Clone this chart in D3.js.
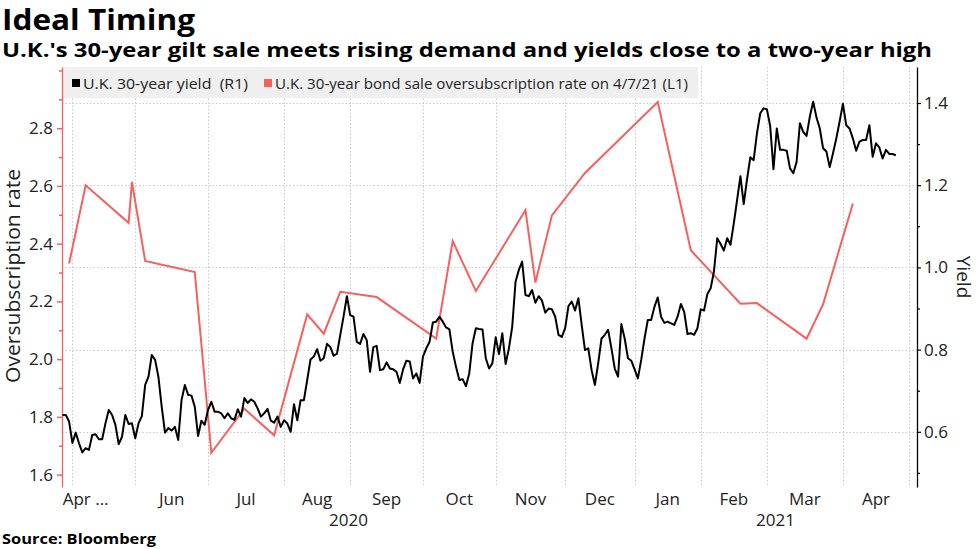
<!DOCTYPE html>
<html>
<head>
<meta charset="utf-8">
<script src="https://cdn.jsdelivr.net/npm/d3@7"></script>
<style>
  html, body { margin: 0; padding: 0; background: #fff; }
  svg { display: block; }
  text { font-family: "Open Sans", "Noto Sans", "Liberation Sans", sans-serif; }
</style>
</head>
<body>
<svg id="chart" width="977" height="549"></svg>
<script>
// ---------- DATA ----------
// U.K. 30-year gilt yield, one value per trading day (index 0 = late Apr 2020)
const yieldValues = [
  0.641, 0.641, 0.625, 0.573, 0.598, 0.572, 0.550, 0.560, 0.556, 0.592,
  0.594, 0.582, 0.582, 0.621, 0.653, 0.641, 0.617, 0.570, 0.588, 0.641,
  0.619, 0.621, 0.584, 0.621, 0.638, 0.714, 0.734, 0.787, 0.775, 0.734,
  0.661, 0.598, 0.609, 0.603, 0.612, 0.580, 0.677, 0.714, 0.690, 0.688,
  0.661, 0.590, 0.627, 0.617, 0.653, 0.673, 0.649, 0.649, 0.645, 0.633,
  0.645, 0.633, 0.629, 0.655, 0.637, 0.682, 0.670, 0.679, 0.673, 0.657,
  0.637, 0.645, 0.656, 0.627, 0.622, 0.637,
  0.612, 0.628, 0.620, 0.600, 0.667, 0.628, 0.677, 0.677, 0.726, 0.776,
  0.783, 0.801, 0.773, 0.779, 0.814, 0.806, 0.785, 0.790, 0.836, 0.881,
  0.930, 0.884, 0.880,
  0.819, 0.814, 0.838, 0.823, 0.746, 0.806, 0.809, 0.750, 0.752, 0.769,
  0.754, 0.752, 0.746, 0.719, 0.752, 0.773, 0.771, 0.730, 0.742, 0.719,
  0.783, 0.803, 0.819, 0.866, 0.868, 0.880, 0.868, 0.854, 0.849, 0.795,
  0.758, 0.726, 0.728, 0.711, 0.742, 0.815, 0.852, 0.850, 0.849, 0.779,
  0.754,
  0.767, 0.830, 0.789, 0.840, 0.765, 0.803, 0.856, 0.965, 0.994, 1.014,
  0.933, 0.930, 0.945, 0.914, 0.930, 0.919, 0.890, 0.900, 0.898, 0.880,
  0.836, 0.831, 0.852, 0.906, 0.917, 0.895, 0.925, 0.860, 0.799, 0.803,
  0.750, 0.714, 0.767, 0.827, 0.836, 0.848, 0.803, 0.754, 0.734, 0.862,
  0.827, 0.779, 0.773, 0.752, 0.730, 0.775, 0.827, 0.872, 0.872, 0.904,
  0.927, 0.880, 0.865, 0.868, 0.864, 0.860, 0.880, 0.911, 0.892, 0.838,
  0.840, 0.836, 0.852,
  0.898, 0.895, 0.935, 0.949, 0.990, 1.071, 1.057, 1.041, 1.071, 1.055,
  1.107, 1.164, 1.222, 1.154, 1.214, 1.268, 1.261, 1.326, 1.375, 1.387,
  1.385, 1.344, 1.239, 1.338, 1.286, 1.286, 1.284, 1.241, 1.229, 1.257,
  1.351, 1.330, 1.320, 1.367, 1.403, 1.365, 1.338, 1.290, 1.282, 1.244,
  1.278, 1.314, 1.355, 1.398, 1.346, 1.338, 1.314, 1.284, 1.306, 1.310,
  1.310, 1.346, 1.269, 1.302, 1.292, 1.265, 1.286, 1.276, 1.276, 1.273
];

// 30-year bond sale oversubscription rate at each auction (trading-day index)
const auctionDays = [2, 7, 20, 21, 25, 40, 45, 55, 64, 74, 79, 84, 95, 113, 118, 125,
                     140, 143, 148, 158, 180, 190, 205, 210, 225, 230, 239];
const oversubscription = [2.331, 2.602, 2.472, 2.614, 2.340, 2.302, 1.675, 1.828, 1.736,
                          2.155, 2.088, 2.233, 2.215, 2.071, 2.409, 2.236, 2.516, 2.265,
                          2.498, 2.645, 2.891, 2.377, 2.192, 2.194, 2.071, 2.190, 2.539];

// x axis (trading-day index)
const monthStarts = [3, 22, 44, 67, 87, 109, 131, 152, 173, 193, 213, 236, 256];
const monthLabels = ["Apr ...", "Jun", "Jul", "Aug", "Sep", "Oct", "Nov", "Dec", "Jan", "Feb", "Mar", "Apr"];
const monthLabelDays = [7, 33, 55.5, 77, 98, 120, 141.5, 162.5, 183, 203, 224.5, 246];
const yearLabels = ["2020", "2021"];
const yearLabelDays = [86.5, 215.6];

// y axes
const leftTicks = [1.6, 1.8, 2.0, 2.2, 2.4, 2.6, 2.8];
const leftMinorTicks = [1.7, 1.9, 2.1, 2.3, 2.5, 2.7, 2.9, 3.0];
const rightTicks = [0.6, 0.8, 1.0, 1.2, 1.4];
const rightMinorTicks = [0.5, 0.7, 0.9, 1.1, 1.3];

const legendLabels = ["U.K. 30-year yield  (R1)", "U.K. 30-year bond sale oversubscription rate on 4/7/21 (L1)"];

// ---------- CHART ----------
const RED = "#f4615f";
const svg = d3.select("#chart");
const plot = { left: 62, right: 917, top: 67, bottom: 487 };

const x = d3.scaleLinear().domain([-0.15, 258.4]).range([plot.left, plot.right]);
const yL = d3.scaleLinear().domain([1.557, 3.012]).range([plot.bottom, plot.top]);
const yR = d3.scaleLinear().domain([0.4657, 1.4876]).range([plot.bottom, plot.top]);

function fit(sel, len) {
  sel.attr("textLength", len).attr("lengthAdjust", "spacingAndGlyphs");
}

// Titles
svg.append("text").attr("x", 2).attr("y", 30)
  .attr("font-family", "Liberation Sans, Arial, sans-serif")
  .attr("font-weight", "bold").attr("font-size", 29).attr("fill", "#000")
  .text("Ideal Timing").call(fit, 193);
svg.append("text").attr("x", 2).attr("y", 57)
  .attr("font-family", "Liberation Sans, Arial, sans-serif")
  .attr("font-weight", "bold").attr("font-size", 20).attr("fill", "#000")
  .text("U.K.'s 30-year gilt sale meets rising demand and yields close to a two-year high")
  .call(fit, 930);

// Grid
const grid = svg.append("g").attr("stroke", "#c9c9c9").attr("stroke-width", 1)
  .attr("stroke-dasharray", "1.5,2");
grid.selectAll("line.h").data(rightTicks).join("line").attr("class", "h")
  .attr("x1", plot.left).attr("x2", plot.right)
  .attr("y1", d => Math.round(yR(d)) + 0.5).attr("y2", d => Math.round(yR(d)) + 0.5);
grid.selectAll("line.v").data(monthStarts).join("line").attr("class", "v")
  .attr("x1", d => Math.round(x(d)) + 0.5).attr("x2", d => Math.round(x(d)) + 0.5)
  .attr("y1", plot.top).attr("y2", plot.bottom);

// Legend
const lg = svg.append("g");
lg.append("rect").attr("x", plot.left + 1).attr("y", 67).attr("width", 635).attr("height", 31)
  .attr("fill", "#efefef");
lg.append("rect").attr("x", 72).attr("y", 79).attr("width", 8).attr("height", 8).attr("fill", "#000");
lg.append("text").attr("x", 83).attr("y", 88.5).attr("font-size", 14).attr("fill", "#222")
  .style("white-space", "pre").text(legendLabels[0]).call(fit, 165);
lg.append("rect").attr("x", 264).attr("y", 79).attr("width", 8).attr("height", 8).attr("fill", RED);
lg.append("text").attr("x", 275).attr("y", 88.5).attr("font-size", 14).attr("fill", "#222")
  .text(legendLabels[1]).call(fit, 413);

// Left axis (oversubscription)
const gL = svg.append("g").attr("transform", `translate(${plot.left},0)`);
gL.call(d3.axisLeft(yL).tickValues(leftTicks).tickSize(5).tickSizeOuter(0).tickPadding(4)
  .tickFormat(d3.format(".1f")));
const gLm = svg.append("g").attr("transform", `translate(${plot.left},0)`);
gLm.call(d3.axisLeft(yL).tickValues(leftMinorTicks).tickSize(3).tickSizeOuter(0).tickFormat(""));
[gL, gLm].forEach(g => {
  g.select(".domain").attr("stroke", RED).attr("stroke-width", 1.3);
  g.selectAll(".tick line").attr("stroke", RED).attr("stroke-width", 1.5);
  g.selectAll(".tick text").attr("font-size", 17).attr("fill", "#222")
    .attr("font-family", "Open Sans, sans-serif");
});
gLm.select(".domain").remove();

// Right axis (yield)
const gR = svg.append("g").attr("transform", `translate(${plot.right},0)`);
gR.call(d3.axisRight(yR).tickValues(rightTicks).tickSize(4).tickSizeOuter(0).tickPadding(3)
  .tickFormat(d3.format(".1f")));
const gRm = svg.append("g").attr("transform", `translate(${plot.right},0)`);
gRm.call(d3.axisRight(yR).tickValues(rightMinorTicks).tickSize(3).tickSizeOuter(0).tickFormat(""));
[gR, gRm].forEach(g => {
  g.select(".domain").attr("stroke", "#000").attr("stroke-width", 1.3);
  g.selectAll(".tick line").attr("stroke", "#000").attr("stroke-width", 1.2);
  g.selectAll(".tick text").attr("font-size", 17).attr("fill", "#222")
    .attr("font-family", "Open Sans, sans-serif");
});
gRm.select(".domain").remove();

// Axis titles
svg.append("text").attr("transform", "translate(20,276) rotate(-90)")
  .attr("text-anchor", "middle").attr("font-size", 20).attr("fill", "#222")
  .text("Oversubscription rate").call(fit, 214);
svg.append("text").attr("transform", "translate(957,277) rotate(90)")
  .attr("text-anchor", "middle").attr("font-size", 19).attr("fill", "#222")
  .text("Yield");

// X labels
svg.append("g").selectAll("text").data(monthLabels).join("text")
  .attr("x", (d, i) => x(monthLabelDays[i])).attr("y", 505)
  .attr("text-anchor", "middle").attr("font-size", 17).attr("fill", "#222")
  .text(d => d);
svg.append("g").selectAll("text").data(yearLabels).join("text")
  .attr("x", (d, i) => x(yearLabelDays[i])).attr("y", 526)
  .attr("text-anchor", "middle").attr("font-size", 17).attr("fill", "#222")
  .text(d => d);

// Lines
const redData = auctionDays.map((d, i) => [d, oversubscription[i]]);
svg.append("path").datum(redData)
  .attr("fill", "none").attr("stroke", RED).attr("stroke-width", 2)
  .attr("stroke-linejoin", "miter")
  .attr("d", d3.line().x(d => x(d[0])).y(d => yL(d[1])));

svg.append("path").datum(yieldValues)
  .attr("fill", "none").attr("stroke", "#000").attr("stroke-width", 2)
  .attr("stroke-linejoin", "round")
  .attr("d", d3.line().x((d, i) => x(i)).y(d => yR(d)));

// Source
svg.append("text").attr("x", 2).attr("y", 544)
  .attr("font-family", "Liberation Sans, Arial, sans-serif")
  .attr("font-weight", "bold").attr("font-size", 15).attr("fill", "#000")
  .text("Source: Bloomberg").call(fit, 154);
</script>
</body>
</html>
